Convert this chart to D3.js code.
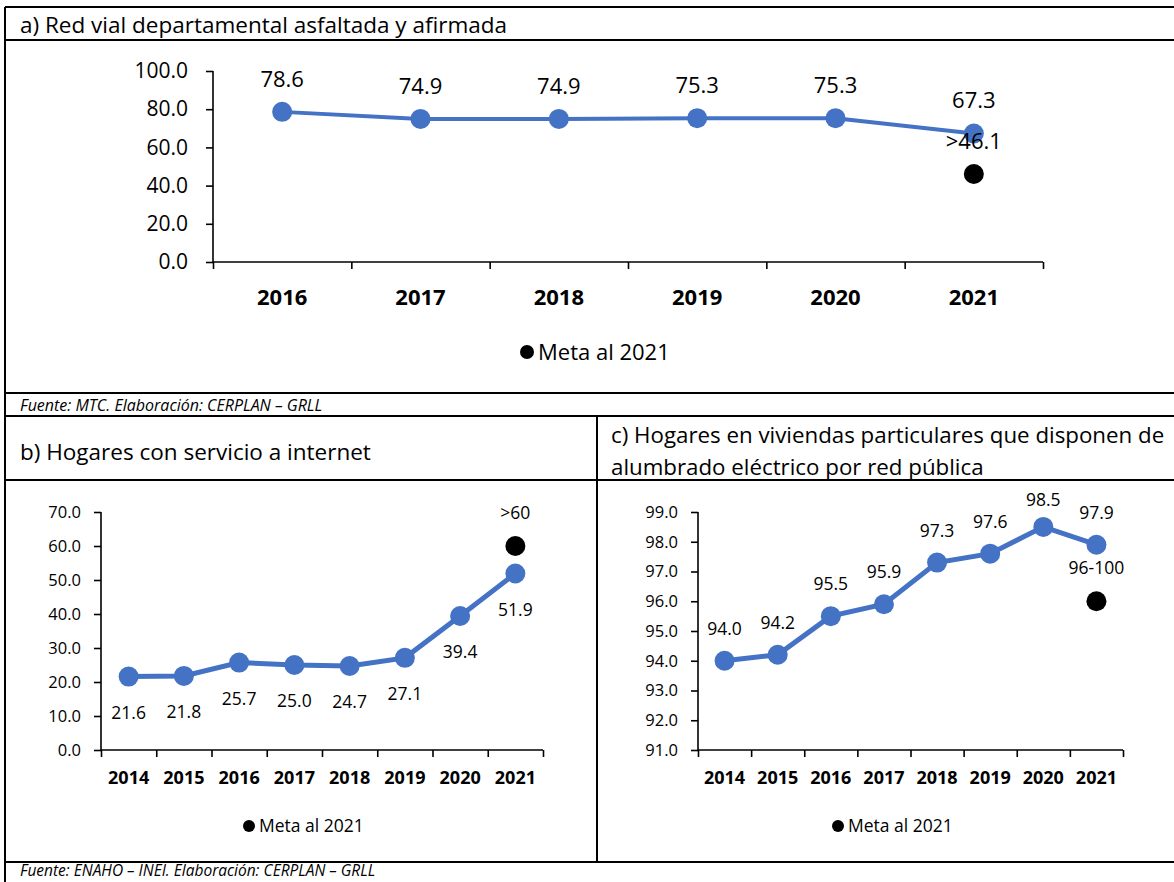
<!DOCTYPE html>
<html>
<head>
<meta charset="utf-8">
<script src="https://cdn.jsdelivr.net/npm/d3@7"></script>
<style>
  body { margin: 0; background: #fff; }
  svg { display: block; font-family: "Open Sans", "Noto Sans", sans-serif; }
</style>
</head>
<body>
<svg width="1174" height="882"></svg>
<script>
// panel a data
var yearsA = ["2016", "2017", "2018", "2019", "2020", "2021"];
var valuesA = [78.6, 74.9, 74.9, 75.3, 75.3, 67.3];
var ticksA = [0, 20, 40, 60, 80, 100];
var metaA = 46.1, metaLabelA = ">46.1";

// panels b and c share the years
var yearsBC = ["2014", "2015", "2016", "2017", "2018", "2019", "2020", "2021"];
var valuesB = [21.6, 21.8, 25.7, 25.0, 24.7, 27.1, 39.4, 51.9];
var ticksB = [0, 10, 20, 30, 40, 50, 60, 70];
var metaB = 60, metaLabelB = ">60";

var valuesC = [94.0, 94.2, 95.5, 95.9, 97.3, 97.6, 98.5, 97.9];
var ticksC = [91, 92, 93, 94, 95, 96, 97, 98, 99];
var metaC = 96, metaLabelC = "96-100";

var legendText = "Meta al 2021";
var blue = "#4472C4";

var svg = d3.select("svg");

// table frame
var frame = svg.append("g").attr("stroke", "#000").attr("stroke-width", 2);
[[5, 7, 1174, 7], [5, 40, 1174, 40], [5, 393, 1174, 393], [5, 416, 1174, 416],
 [5, 480, 1174, 480], [5, 862, 1174, 862], [5, 7, 5, 882], [597, 416, 597, 862]]
  .forEach(function(l) {
    frame.append("line").attr("x1", l[0]).attr("y1", l[1]).attr("x2", l[2]).attr("y2", l[3]);
  });

function text(x, y, s, size, opts) {
  opts = opts || {};
  return svg.append("text")
    .attr("x", x).attr("y", y)
    .attr("dy", "0.35em")
    .attr("font-size", size)
    .attr("font-style", opts.italic ? "italic" : null)
    .attr("text-anchor", opts.anchor || "start")
    .attr("fill", "#000")
    .text(s);
}

text(20, 25, "a) Red vial departamental asfaltada y afirmada", 22.5);
text(20, 405, "Fuente: MTC. Elaboración: CERPLAN – GRLL", 16, {italic: true});
text(20, 452, "b) Hogares con servicio a internet", 22.5);
text(611, 435, "c) Hogares en viviendas particulares que disponen de", 22.3);
text(611, 467, "alumbrado eléctrico por red pública", 22.3);
text(20, 871, "Fuente: ENAHO – INEI. Elaboración: CERPLAN – GRLL", 15.5, {italic: true});

function panel(o) {
  var g = svg.append("g");
  var x = d3.scaleBand().domain(o.cats).range(o.xr);
  var xb = d3.scaleLinear().domain([0, o.cats.length]).range(o.xr);
  var y = d3.scaleLinear().domain(o.dom).range(o.yr);

  // y axis
  var ya = g.append("g").attr("transform", "translate(" + o.xr[0] + ",0)")
    .call(d3.axisLeft(y).tickValues(o.ticks).tickSize(7).tickPadding(o.yPad)
      .tickFormat(d3.format(".1f")))
    .attr("font-family", null).attr("font-size", o.tfs);
  ya.select(".domain").attr("d", "M0," + o.yr[0] + "V" + o.yr[1]);
  ya.selectAll("text").attr("fill", "#000");

  // x axis: ticks on band edges, labels in band centres
  var xa = g.append("g").attr("transform", "translate(0," + o.yr[0] + ")")
    .call(d3.axisBottom(xb).tickValues(d3.range(o.cats.length + 1)).tickSize(7).tickFormat(""));
  xa.select(".domain").attr("d", "M" + o.xr[0] + ",0H" + o.xr[1]);
  var xl = g.append("g").attr("transform", "translate(0," + o.yr[0] + ")")
    .call(d3.axisBottom(x).tickSize(0).tickPadding(o.xPad))
    .attr("font-family", null).attr("font-size", o.xfs).attr("font-weight", "bold");
  xl.select(".domain").remove();
  xl.selectAll("text").attr("fill", "#000");
  g.selectAll(".domain, .tick line").attr("stroke", "#000").attr("stroke-width", 1.6);

  var cx = function(d, i) { return x(o.cats[i]) + x.bandwidth() / 2; };

  g.append("path").datum(o.values)
    .attr("fill", "none").attr("stroke", blue).attr("stroke-width", o.lw)
    .attr("d", d3.line().x(cx).y(function(d) { return y(d); }));

  g.selectAll(".pt").data(o.values).enter().append("circle")
    .attr("cx", cx).attr("cy", function(d) { return y(d); })
    .attr("r", 10).attr("fill", blue);

  var last = o.cats[o.cats.length - 1];
  var mx = x(last) + x.bandwidth() / 2;
  g.append("circle").attr("cx", mx).attr("cy", y(o.meta)).attr("r", 10).attr("fill", "#000");

  g.selectAll(".lbl").data(o.values).enter().append("text")
    .attr("x", cx)
    .attr("y", function(d) {
      var p = y(d) + o.off;
      return o.top != null ? Math.max(p, o.top) : p;
    })
    .attr("dy", "0.35em").attr("text-anchor", "middle").attr("font-size", o.fs)
    .text(d3.format(".1f"));

  g.append("text").attr("x", mx).attr("y", y(o.meta) - 33)
    .attr("dy", "0.35em").attr("text-anchor", "middle").attr("font-size", o.fs)
    .text(o.metaLabel);

  // legend
  g.append("circle").attr("cx", o.leg[0]).attr("cy", o.leg[1]).attr("r", o.lr).attr("fill", "#000");
  g.append("text").attr("x", o.leg[0] + o.lr + 4).attr("y", o.leg[1])
    .attr("dy", "0.35em").attr("font-size", o.fs).text(legendText);
}

panel({cats: yearsA, values: valuesA, ticks: ticksA, dom: [0, 100],
  xr: [213, 1043], yr: [262, 71], fs: 22, tfs: 21, xfs: 22, yPad: 18, xPad: 27, lw: 4,
  off: -33, meta: metaA, metaLabel: metaLabelA, leg: [527, 352], lr: 7});

panel({cats: yearsBC, values: valuesB, ticks: ticksB, dom: [0, 70],
  xr: [101, 543], yr: [750, 512], fs: 17.5, tfs: 16.5, xfs: 18, yPad: 13, xPad: 21.5, lw: 5,
  off: 36, meta: metaB, metaLabel: metaLabelB, leg: [249, 826], lr: 6});

panel({cats: yearsBC, values: valuesC, ticks: ticksC, dom: [91, 99],
  xr: [698, 1123], yr: [750, 512], fs: 17.5, tfs: 16.5, xfs: 18, yPad: 13, xPad: 21.5, lw: 5,
  off: -32, top: 500, meta: metaC, metaLabel: metaLabelC, leg: [838, 826], lr: 6});
</script>
</body>
</html>
